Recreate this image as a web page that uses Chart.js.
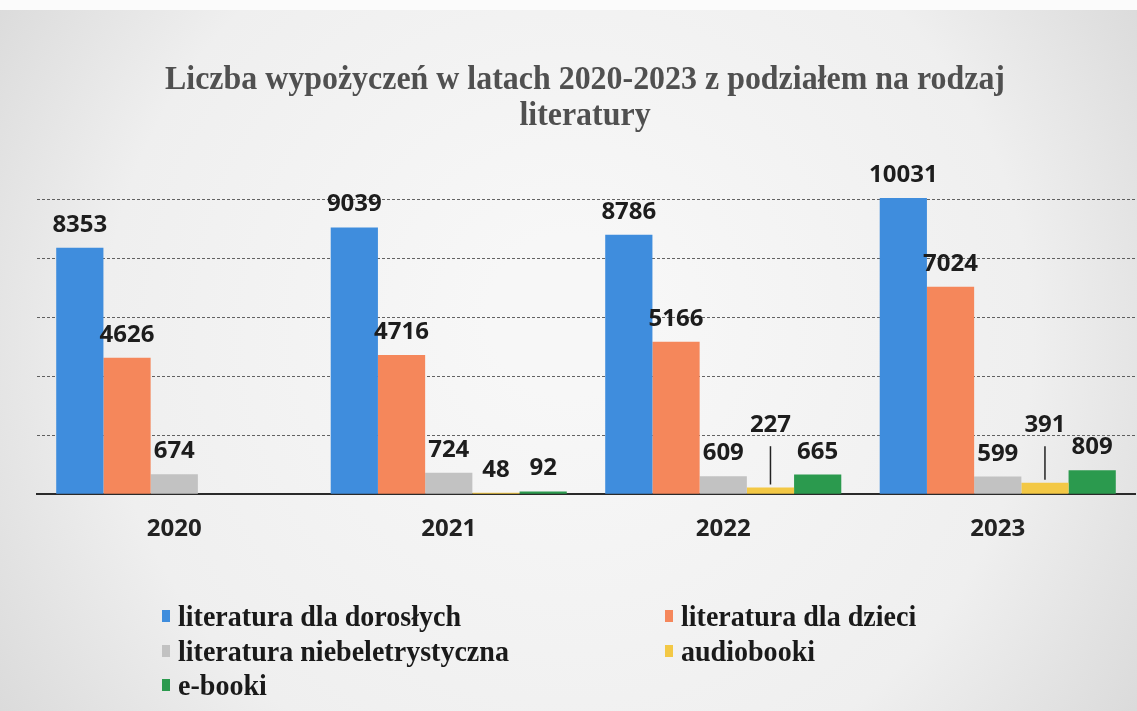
<!DOCTYPE html>
<html>
<head>
<meta charset="utf-8">
<script src="https://cdn.jsdelivr.net/npm/chart.js@4.4.1/dist/chart.umd.min.js"></script>
<style>
  html, body { margin: 0; padding: 0; background: #e4e4e4; }
  #wrap { width: 1137px; height: 711px; position: relative; }
</style>
</head>
<body>
<div id="wrap"><canvas id="c" width="1137" height="711"></canvas></div>
<script>
// ---- data ----
const titleLines = ['Liczba wypożyczeń w latach 2020-2023 z podziałem na rodzaj', 'literatury'];
const categories = ['2020', '2021', '2022', '2023'];
const seriesNames = ['literatura dla dorosłych', 'literatura dla dzieci', 'literatura niebeletrystyczna', 'audiobooki', 'e-booki'];
const adultLit = [8353, 9039, 8786, 10031];
const childrenLit = [4626, 4716, 5166, 7024];
const nonFiction = [674, 724, 609, 599];
const audiobooks = [null, 48, 227, 391];
const ebooks = [null, 92, 665, 809];
const seriesColors = ['#3f8ddd', '#f5875b', '#c2c2c2', '#f3c845', '#2b9a4e'];
const yMax = 12000;
const yStep = 2000;

const seriesValues = [adultLit, childrenLit, nonFiction, audiobooks, ebooks];

const bgPlugin = {
  id: 'bg',
  beforeDraw(chart) {
    const ctx = chart.ctx, w = chart.width, h = chart.height;
    ctx.save();
    const g = ctx.createRadialGradient(w / 2, h / 2 - 40, 80, w / 2, h / 2, 720);
    g.addColorStop(0, '#f7f7f7');
    g.addColorStop(0.6, '#efefef');
    g.addColorStop(1, '#d6d6d6');
    ctx.fillStyle = g;
    ctx.fillRect(0, 0, w, h);
    ctx.fillStyle = '#fbfbfb';
    ctx.fillRect(0, 0, w, 10);
    ctx.restore();
  }
};

const textPlugin = {
  id: 'texts',
  afterDatasetsDraw(chart) {
    const ctx = chart.ctx;
    const base = chart.scales.y.getPixelForValue(0);
    ctx.save();
    ctx.font = 'bold 24px "Open Sans"';
    ctx.fillStyle = '#1d1d1d';
    ctx.textAlign = 'center';
    ctx.textBaseline = 'alphabetic';
    chart.data.datasets.forEach((ds, di) => {
      const meta = chart.getDatasetMeta(di);
      meta.data.forEach((bar, i) => {
        const v = ds.data[i];
        if (v == null) return;
        let y = bar.y - 16;
        if (di === 3 && v > 100) {
          y = base - 62;
          ctx.save();
          ctx.strokeStyle = '#222';
          ctx.lineWidth = 1.5;
          ctx.beginPath();
          ctx.moveTo(bar.x, y + 14);
          ctx.lineTo(bar.x, bar.y - 3);
          ctx.stroke();
          ctx.restore();
        }
        ctx.fillText(String(v), bar.x, y);
      });
    });
    ctx.restore();
  },
  afterDraw(chart) {
    const ctx = chart.ctx;
    ctx.save();
    // title
    ctx.fillStyle = '#505050';
    ctx.textAlign = 'center';
    ctx.textBaseline = 'alphabetic';
    ctx.font = 'bold 34px "Liberation Serif"';
    const tw = ctx.measureText(titleLines[0]).width;
    const ts = 840 / tw;
    const tY = [89, 125];
    titleLines.forEach((t, k) => {
      ctx.save();
      ctx.translate(585, tY[k]);
      ctx.scale(ts, 1);
      ctx.fillText(t, 0, 0);
      ctx.restore();
    });
    // legend
    ctx.font = 'bold 29px "Liberation Serif"';
    const lw = ctx.measureText(seriesNames[0]).width;
    const ls = 283 / lw;
    ctx.textAlign = 'left';
    const colX = [162, 665];
    const rowY = [626, 661, 695];
    chart.data.datasets.forEach((ds, di) => {
      const col = di % 2, row = Math.floor(di / 2);
      const x = colX[col], y = rowY[row];
      ctx.fillStyle = ds.backgroundColor;
      ctx.fillRect(x, y - 16, 8, 12);
      ctx.fillStyle = '#1a1a1a';
      ctx.save();
      ctx.translate(x + 16, y);
      ctx.scale(ls, 1);
      ctx.fillText(ds.label, 0, 0);
      ctx.restore();
    });
    ctx.restore();
  }
};

new Chart(document.getElementById('c'), {
  type: 'bar',
  data: {
    labels: categories,
    datasets: seriesNames.map((name, k) => ({
      label: name,
      data: seriesValues[k],
      backgroundColor: seriesColors[k],
      borderWidth: 0
    }))
  },
  options: {
    responsive: false,
    animation: false,
    devicePixelRatio: 1,
    layout: { padding: { left: 37, right: 2, top: 140, bottom: 146 } },
    datasets: { bar: { categoryPercentage: 0.86, barPercentage: 1.0 } },
    plugins: {
      legend: { display: false },
      title: { display: false },
      tooltip: { enabled: false }
    },
    scales: {
      x: {
        grid: { display: false, drawTicks: false },
        border: { display: true, color: '#2a2a2a', width: 2 },
        ticks: {
          color: '#222',
          padding: 21,
          font: { family: 'Open Sans', weight: 'bold', size: 24 },
          lineHeight: 1
        }
      },
      y: {
        min: 0,
        max: yMax,
        ticks: { display: false, stepSize: yStep },
        grid: {
          drawTicks: false,
          lineWidth: 1,
          color: (c) => (c.tick && (c.tick.value === 0 || c.tick.value === yMax)) ? 'rgba(0,0,0,0)' : 'rgba(50,50,50,0.75)'
        },
        border: { display: false, dash: [3, 2] }
      }
    }
  },
  plugins: [bgPlugin, textPlugin]
});
</script>
</body>
</html>
